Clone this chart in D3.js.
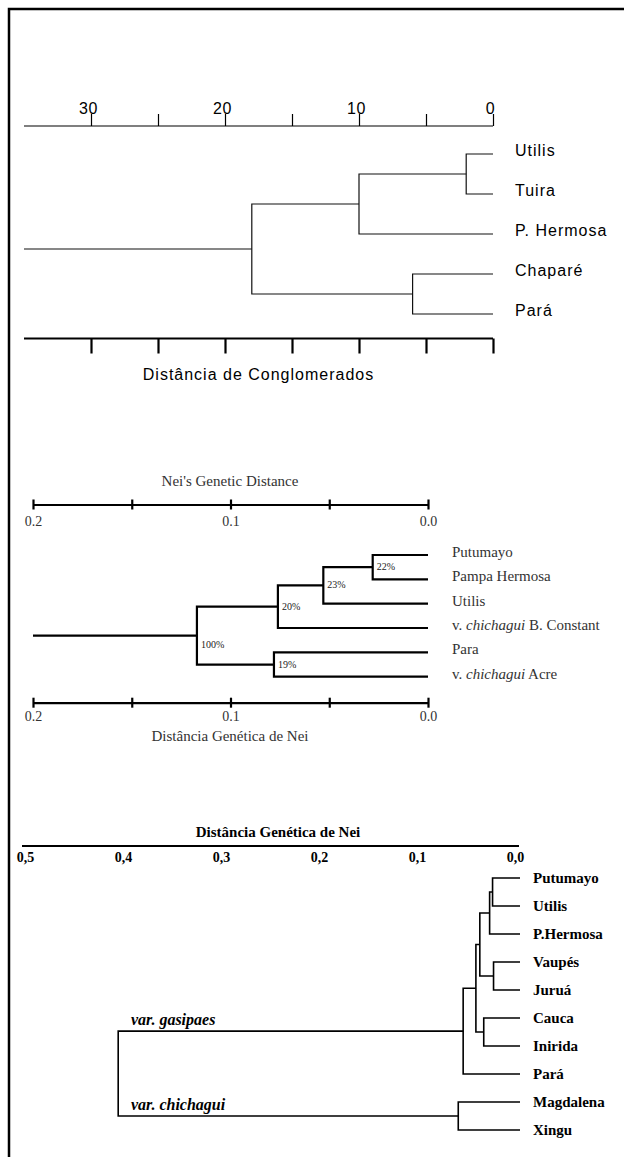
<!DOCTYPE html>
<html>
<head>
<meta charset="utf-8">
<script src="https://cdn.jsdelivr.net/npm/d3@7"></script>
<style>
  html, body { margin: 0; padding: 0; background: #fff; }
  svg { display: block; }
</style>
</head>
<body>
<svg id="chart" width="624" height="1157"></svg>
<script>
// ---------- DATA ----------
// Dendrogram 1 (cluster distance)
const leaves1 = ["Utilis", "Tuira", "P. Hermosa", "Chaparé", "Pará"];
// merges: [childA, childB, height]; index < n => leaf, n+k => k-th merge
const merges1 = [[0, 1, 2], [5, 2, 10], [3, 4, 6], [6, 7, 18]];
const stem1 = 35;
const ticks1 = [0, 5, 10, 15, 20, 25, 30];
const tickLabels1 = [0, 10, 20, 30];
const axisTitle1 = "Distância de Conglomerados";

// Dendrogram 2 (Nei's genetic distance, bootstrap)
const leaves2 = ["Putumayo", "Pampa Hermosa", "Utilis", "v. |chichagui| B. Constant", "Para", "v. |chichagui| Acre"];
const merges2 = [[0, 1, 0.028], [6, 2, 0.053], [7, 3, 0.076], [4, 5, 0.078], [8, 9, 0.117]];
const support2 = ["22%", "23%", "20%", "19%", "100%"];
const stem2 = 0.2;
const ticks2 = [0, 0.05, 0.1, 0.15, 0.2];
const tickLabels2 = [0, 0.1, 0.2];
const axisTitleTop2 = "Nei's Genetic Distance";
const axisTitleBottom2 = "Distância Genética de Nei";

// Dendrogram 3 (Distância Genética de Nei)
const leaves3 = ["Putumayo", "Utilis", "P.Hermosa", "Vaupés", "Juruá", "Cauca", "Inirida", "Pará", "Magdalena", "Xingu"];
const merges3 = [[0, 1, 0.028], [10, 2, 0.031], [3, 4, 0.027], [11, 12, 0.041], [5, 6, 0.037],
                 [13, 14, 0.045], [15, 7, 0.058], [8, 9, 0.063], [16, 17, 0.41]];
const groupLabels3 = [{ node: 16, text: "var. gasipaes" }, { node: 17, text: "var. chichagui" }];
const ticks3 = [0.5, 0.4, 0.3, 0.2, 0.1, 0.0];
const axisTitle3 = "Distância Genética de Nei";

// ---------- HELPERS ----------
const SANS = "'Liberation Sans', Arial, sans-serif";
const SERIF = "'Liberation Serif', 'Times New Roman', serif";
const svg = d3.select("#chart");
svg.append("rect").attr("width", 624).attr("height", 1157).attr("fill", "#fff");
// frame (only the left and top edges fall inside the picture)
svg.append("rect").attr("x", 9).attr("y", 9).attr("width", 640).attr("height", 1170)
  .attr("fill", "none").attr("stroke", "#000").attr("stroke-width", 2.5);

function layout(leaves, merges, x, y) {
  const nodes = leaves.map((name, i) => ({ x: x(0), y: y(i), name }));
  merges.forEach(([a, b, h]) => {
    nodes.push({ x: x(h), y: (nodes[a].y + nodes[b].y) / 2, a, b });
  });
  return nodes;
}
function drawTree(g, nodes, merges, width, color) {
  const n = nodes.length - merges.length;
  merges.forEach((m, k) => {
    const nd = nodes[n + k], A = nodes[m[0]], B = nodes[m[1]];
    g.append("path")
      .attr("d", `M${A.x},${A.y}H${nd.x}V${B.y}H${B.x}`)
      .attr("fill", "none").attr("stroke", color || "#000").attr("stroke-width", width);
  });
}
function richLabel(sel, str) {
  str.split("|").forEach((part, i) => {
    sel.append("tspan").text(part).attr("font-style", i % 2 ? "italic" : null);
  });
}

// ---------- CHART 1 ----------
{
  const g = svg.append("g");
  const x = d3.scaleLinear().domain([0, stem1]).range([493, 24]);
  const y = d3.scaleLinear().domain([0, leaves1.length - 1]).range([154, 314]);
  const nodes = layout(leaves1, merges1, x, y);
  drawTree(g, nodes, merges1, 1.2, "#111");
  const root = nodes[nodes.length - 1];
  g.append("line").attr("x1", x(stem1)).attr("x2", root.x).attr("y1", root.y).attr("y2", root.y)
    .attr("stroke", "#111").attr("stroke-width", 1.2);

  const top = g.append("g").attr("transform", "translate(0,126)")
    .call(d3.axisTop(x).tickValues(ticks1).tickSizeInner(12).tickSizeOuter(0).tickPadding(0)
      .tickFormat(d => tickLabels1.includes(d) ? d : ""));
  top.select(".domain").attr("d", `M${x(stem1)},0H${x(0)}`).attr("stroke-width", 1.2);
  top.selectAll(".tick line").attr("stroke-width", 1.2);
  top.selectAll(".tick text").attr("font-family", SANS).attr("font-size", 16).attr("fill", "#000")
    .attr("x", -3).attr("letter-spacing", 0.5);

  const bot = g.append("g").attr("transform", "translate(0,338.5)")
    .call(d3.axisBottom(x).tickValues(ticks1).tickSizeInner(15).tickSizeOuter(0).tickFormat(""));
  bot.select(".domain").attr("d", `M${x(stem1)},0H${x(0)}`).attr("stroke-width", 2.2);
  bot.selectAll(".tick line").attr("stroke-width", 2.2);

  g.selectAll(".leaf").data(nodes.slice(0, leaves1.length)).join("text")
    .attr("x", 515).attr("y", d => d.y + 2).text(d => d.name)
    .attr("font-family", SANS).attr("font-size", 16).attr("letter-spacing", 1).attr("fill", "#000");
  g.append("text").attr("x", (x(stem1) + x(0)) / 2).attr("y", 380).attr("text-anchor", "middle")
    .attr("font-family", SANS).attr("font-size", 16).attr("letter-spacing", 1).text(axisTitle1);
}

// ---------- CHART 2 ----------
{
  const g = svg.append("g");
  const x = d3.scaleLinear().domain([0, stem2]).range([428, 33]);
  const y = d3.scaleLinear().domain([0, leaves2.length - 1]).range([555, 676.7]);
  const nodes = layout(leaves2, merges2, x, y);
  drawTree(g, nodes, merges2, 2.2);
  const root = nodes[nodes.length - 1];
  g.append("line").attr("x1", x(stem2)).attr("x2", root.x).attr("y1", root.y).attr("y2", root.y)
    .attr("stroke", "#000").attr("stroke-width", 2.2);

  const fmt = d => tickLabels2.some(t => Math.abs(t - d) < 1e-9) ? d.toFixed(1) : "";
  [[504.5, 21], [702.7, 18]].forEach(([ty, ly]) => {
    const ax = g.append("g").attr("transform", `translate(0,${ty})`)
      .call(d3.axisBottom(x).tickValues(ticks2).tickSizeInner(5).tickSizeOuter(0).tickFormat(fmt));
    ax.select(".domain").attr("stroke-width", 2.2);
    ax.selectAll(".tick line").attr("y1", -5).attr("stroke-width", 2.2);
    ax.selectAll(".tick text").attr("y", ly).attr("dy", 0)
      .attr("font-family", SERIF).attr("font-size", 14).attr("fill", "#333");
  });

  g.append("text").attr("x", 230).attr("y", 486).attr("text-anchor", "middle")
    .attr("font-family", SERIF).attr("font-size", 15).attr("fill", "#333").text(axisTitleTop2);
  g.append("text").attr("x", 230).attr("y", 741).attr("text-anchor", "middle")
    .attr("font-family", SERIF).attr("font-size", 15).attr("fill", "#333").text(axisTitleBottom2);

  nodes.slice(0, leaves2.length).forEach(d => {
    const t = g.append("text").attr("x", 452).attr("y", d.y + 2)
      .attr("font-family", SERIF).attr("font-size", 15).attr("fill", "#333");
    richLabel(t, d.name);
  });
  nodes.slice(leaves2.length).forEach((d, k) => {
    g.append("text").attr("x", d.x + 4).attr("y", d.y + (k === merges2.length - 1 ? 12 : 3))
      .attr("font-family", SERIF).attr("font-size", 10).attr("fill", "#222").text(support2[k]);
  });
}

// ---------- CHART 3 ----------
{
  const g = svg.append("g");
  const x = d3.scaleLinear().domain([0, 0.5]).range([520, 30]);
  const y = d3.scaleLinear().domain([0, leaves3.length - 1]).range([878, 1130]);
  const nodes = layout(leaves3, merges3, x, y);
  drawTree(g, nodes, merges3, 1.6);

  g.append("text").attr("x", 278).attr("y", 837).attr("text-anchor", "middle")
    .attr("font-family", SERIF).attr("font-weight", "bold").attr("font-size", 15).text(axisTitle3);
  const ax = g.append("g").attr("transform", "translate(0,846)")
    .call(d3.axisBottom(x).tickValues(ticks3).tickSize(0).tickFormat(d => d.toFixed(1).replace(".", ",")));
  ax.select(".domain").attr("d", "M22,0H519").attr("stroke-width", 2.2);
  ax.selectAll(".tick text").attr("x", -5).attr("y", 16).attr("dy", 0)
    .attr("font-family", SERIF).attr("font-weight", "bold").attr("font-size", 14).attr("fill", "#000");

  g.selectAll(".leaf3").data(nodes.slice(0, leaves3.length)).join("text")
    .attr("x", 533).attr("y", d => d.y + 5).text(d => d.name)
    .attr("font-family", SERIF).attr("font-weight", "bold").attr("font-size", 15);

  groupLabels3.forEach(gl => {
    const nd = nodes[gl.node];
    g.append("text").attr("x", x(0.397)).attr("y", nd.y - 6)
      .attr("font-family", SERIF).attr("font-weight", "bold").attr("font-style", "italic")
      .attr("font-size", 16).text(gl.text);
  });
}
</script>
</body>
</html>
